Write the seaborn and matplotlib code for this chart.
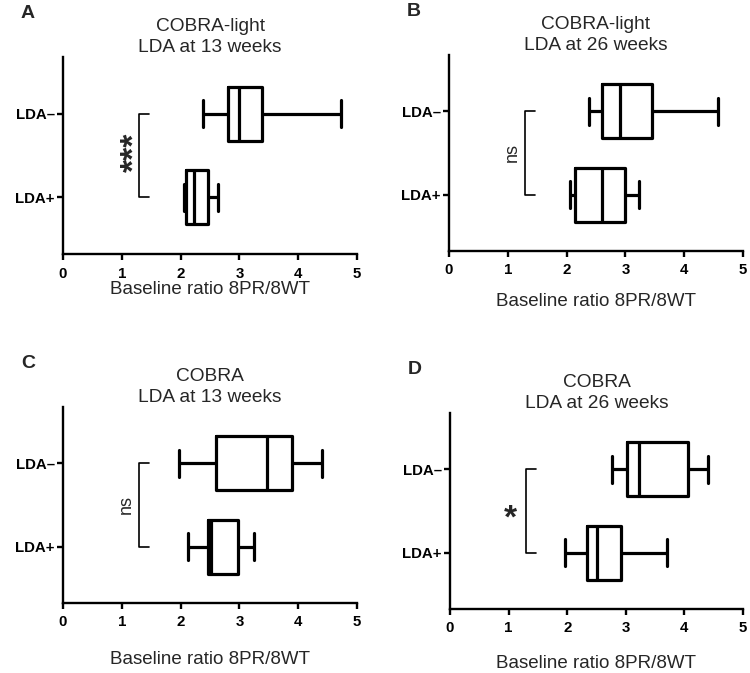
import pandas as pd
import matplotlib
matplotlib.use("Agg")
import matplotlib.pyplot as plt
import seaborn as sns

sns.set_theme(style="white")
plt.rcParams['font.family'] = ['Liberation Sans', 'DejaVu Sans']

# five-number summaries (min, Q1, median, Q3, max)
groups = ["LDA\u2013", "LDA+"]
a_neg = [2.38, 2.80, 2.99, 3.39, 4.72]
a_pos = [2.06, 2.09, 2.23, 2.47, 2.63]
b_neg = [2.38, 2.60, 2.91, 3.46, 4.57]
b_pos = [2.06, 2.14, 2.60, 3.00, 3.23]
c_neg = [1.97, 2.60, 3.47, 3.90, 4.40]
c_pos = [2.13, 2.47, 2.51, 2.97, 3.24]
d_neg = [2.77, 3.02, 3.23, 4.06, 4.41]
d_pos = [1.96, 2.34, 2.51, 2.91, 3.70]

panels = [
    ("A", "COBRA-light\nLDA at 13 weeks", a_neg, a_pos, "***"),
    ("B", "COBRA-light\nLDA at 26 weeks", b_neg, b_pos, "ns"),
    ("C", "COBRA\nLDA at 13 weeks", c_neg, c_pos, "ns"),
    ("D", "COBRA\nLDA at 26 weeks", d_neg, d_pos, "*"),
]

# axes boxes in pixels: left, top, right, bottom
W, H = 750, 673
boxes = [(63, 57, 357, 254), (449, 55, 743, 251),
         (63, 407, 357, 603), (450, 413, 743, 609)]
xlabel_y = [290, 302, 659, 664]

fig = plt.figure(figsize=(W / 100, H / 100), dpi=100)

for (letter, title, neg, pos, sig), (l, t, r, b), xly in zip(panels, boxes, xlabel_y):
    ax = fig.add_axes([l / W, 1 - b / H, (r - l) / W, (b - t) / H])
    df = pd.DataFrame({
        "value": neg + pos,
        "group": [groups[0]] * len(neg) + [groups[1]] * len(pos),
    })
    sns.boxplot(data=df, x="value", y="group", order=groups, orient="h",
                whis=(0, 100), width=0.65, fill=False, color="black",
                linewidth=2.3, ax=ax)
    ax.set_xlim(0, 5)
    ax.set_ylim(1.68, -0.68)
    ax.set_xticks(range(6))
    ax.set_ylabel("")
    ax.set_xlabel("")
    for s in ["top", "right"]:
        ax.spines[s].set_visible(False)
    for s in ["left", "bottom"]:
        ax.spines[s].set_linewidth(1.7)
        ax.spines[s].set_color("black")
    ax.tick_params(axis="both", direction="out", length=4, width=1.7,
                   colors="black", labelsize=10.8, pad=2,
                   bottom=True, left=True)
    ax.tick_params(axis="x", pad=5)
    for lab in ax.get_xticklabels() + ax.get_yticklabels():
        lab.set_fontweight("bold")

    # significance bracket
    ax.plot([1.46, 1.30, 1.30, 1.46], [0, 0, 1, 1], color="black",
            lw=1.2, clip_on=False)
    if sig == "ns":
        ax.text(1.07, 0.5, sig, rotation=90, ha="center", va="center",
                fontsize=13)
    elif sig == "***":
        ax.text(1.22, 0.46, sig, rotation=90, ha="center", va="center",
                fontsize=24, fontweight="bold")
    else:
        ax.text(1.03, 0.6, sig, ha="center", va="center",
                fontsize=24, fontweight="bold")

    cx = (l + r) / 2 / W
    fig.text(cx, 1 - (t - 1) / H, title, ha="center", va="bottom",
             fontsize=13.8, linespacing=1.3)
    fig.text(cx, 1 - xly / H, "Baseline ratio 8PR/8WT", ha="center",
             va="center", fontsize=13.5)
    fig.text((l - 35) / W, 1 - (t - 44) / H, letter, ha="center",
             va="center", fontsize=14, fontweight="bold")

fig.savefig("out.png", dpi=100)
